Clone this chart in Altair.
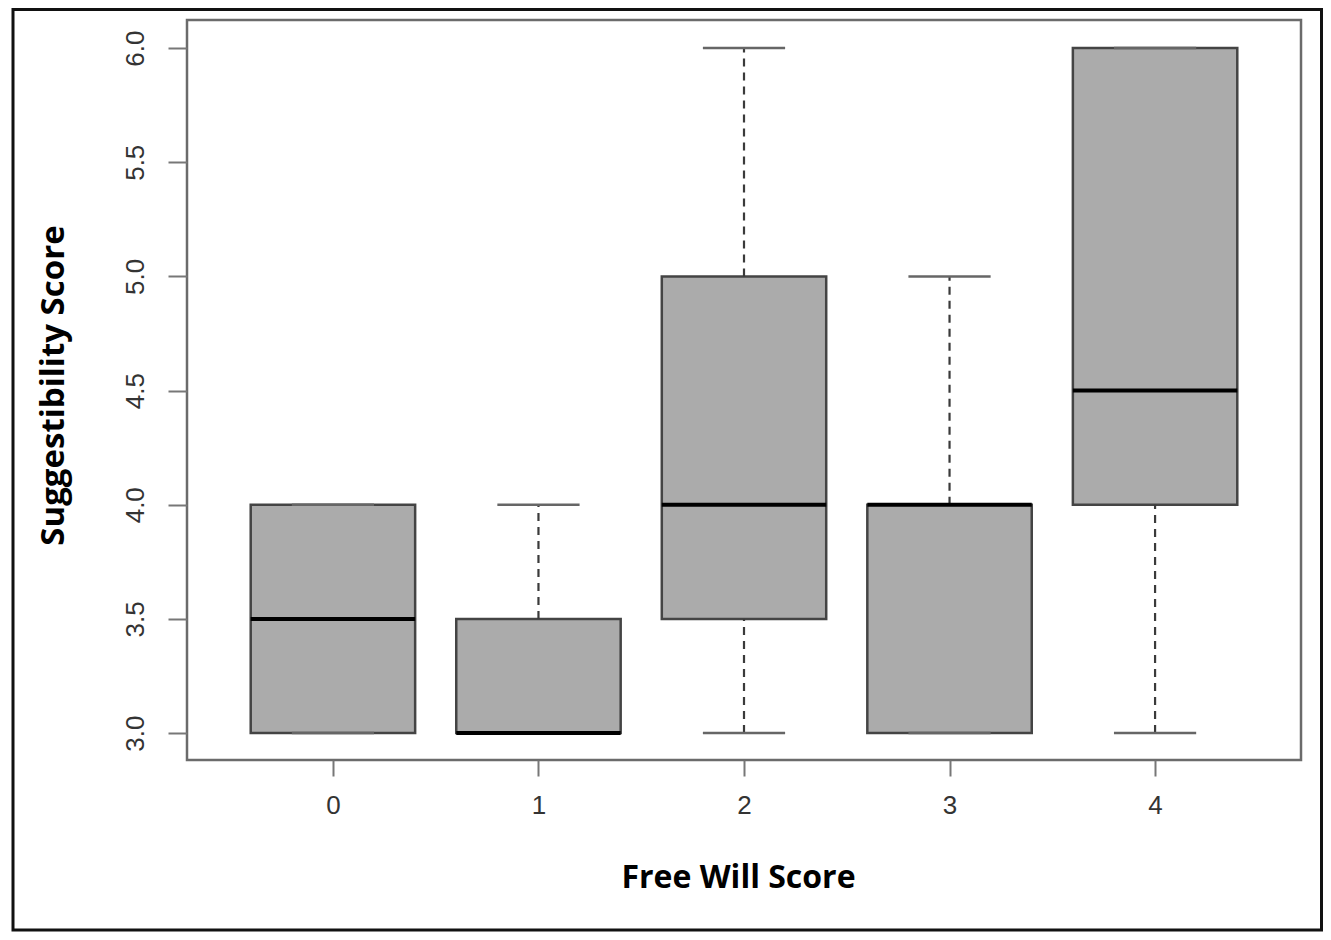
import altair as alt
import pandas as pd

# Box-plot summary values
scores = [0, 1, 2, 3, 4]
lower = [3.0, 3.0, 3.0, 3.0, 3.0]
q1 = [3.0, 3.0, 3.5, 3.0, 4.0]
median = [3.5, 3.0, 4.0, 4.0, 4.5]
q3 = [4.0, 3.5, 5.0, 4.0, 6.0]
upper = [4.0, 4.0, 6.0, 5.0, 6.0]

y_ticks = [3.0, 3.5, 4.0, 4.5, 5.0, 5.5, 6.0]
x_ticks = [0, 1, 2, 3, 4]

df = pd.DataFrame({"score": scores, "lower": lower, "q1": q1,
                   "median": median, "q3": q3, "upper": upper})

W, H = 1114, 740

xscale = alt.Scale(domain=[-0.71, 4.71], nice=False, zero=False)
yscale = alt.Scale(domain=[2.882, 6.123], nice=False, zero=False)

xaxis = alt.Axis(values=x_ticks, format="d", grid=False, domain=False,
                 tickSize=16, tickWidth=2, tickColor="#777777",
                 labelFont="Liberation Sans", labelFontSize=26, labelColor="#333333",
                 labelAlign="center", labelBaseline="alphabetic", labelPadding=37,
                 labelFlush=False, labelOverlap=False,
                 title="Free Will Score", titleFont="Open Sans", titleFontSize=32,
                 titleFontWeight="bold", titleColor="#000000",
                 titleAlign="center", titleBaseline="alphabetic",
                 titleX=551, titleY=127)
yaxis = alt.Axis(values=y_ticks, format=".1f", grid=False, domain=False,
                 tickSize=19, tickWidth=2, tickColor="#777777",
                 labelFont="Liberation Sans", labelFontSize=26, labelColor="#333333",
                 labelAngle=270, labelAlign="center", labelBaseline="alphabetic",
                 labelPadding=25, labelFlush=False, labelOverlap=False,
                 title="Suggestibility Score", titleFont="Open Sans", titleFontSize=33,
                 titleFontWeight="bold", titleColor="#000000",
                 titleAngle=270, titleAlign="center", titleBaseline="alphabetic",
                 titleX=-124, titleY=365)

base = alt.Chart(df).transform_calculate(
    xl="datum.score - 0.4", xr="datum.score + 0.4",
    sl="datum.score - 0.2", sr="datum.score + 0.2")

boxes = base.mark_rect(fill="#ababab", stroke="#444444", strokeWidth=2.5).encode(
    x=alt.X("xl:Q", scale=xscale, axis=xaxis),
    x2="xr:Q",
    y=alt.Y("q1:Q", scale=yscale, axis=yaxis),
    y2="q3:Q")

whisk_up = base.mark_rule(color="#3a3a3a", strokeWidth=2.2, strokeDash=[8, 6]).encode(
    x=alt.X("score:Q", scale=xscale, axis=xaxis),
    y=alt.Y("q3:Q", scale=yscale, axis=yaxis),
    y2="upper:Q")

whisk_lo = base.mark_rule(color="#3a3a3a", strokeWidth=2.2, strokeDash=[8, 6]).encode(
    x=alt.X("score:Q", scale=xscale, axis=xaxis),
    y=alt.Y("lower:Q", scale=yscale, axis=yaxis),
    y2="q1:Q")

cap_up = base.mark_rule(color="#666666", strokeWidth=2.5).encode(
    x=alt.X("sl:Q", scale=xscale, axis=xaxis), x2="sr:Q",
    y=alt.Y("upper:Q", scale=yscale, axis=yaxis))

cap_lo = base.mark_rule(color="#666666", strokeWidth=2.5).encode(
    x=alt.X("sl:Q", scale=xscale, axis=xaxis), x2="sr:Q",
    y=alt.Y("lower:Q", scale=yscale, axis=yaxis))

med = base.mark_rule(color="#000000", strokeWidth=4).encode(
    x=alt.X("xl:Q", scale=xscale, axis=xaxis), x2="xr:Q",
    y=alt.Y("median:Q", scale=yscale, axis=yaxis))

frame = alt.Chart(alt.Data(values=[{"a": 1}])).mark_rect(
    fillOpacity=0, stroke="#111111", strokeWidth=3).encode(
    x=alt.value(-174), x2=alt.value(1134.5),
    y=alt.value(-10.5), y2=alt.value(910))

chart = alt.layer(boxes, whisk_up, whisk_lo, cap_up, cap_lo, med, frame).properties(
    width=W, height=H,
    autosize=alt.AutoSizeParams(type="none"),
    padding={"left": 179, "top": 12, "right": 22, "bottom": 172},
    background="#ffffff",
).configure_view(stroke="#6b6b6b", strokeWidth=2.5)

chart.save("out.html", embed_options={"renderer": "svg", "actions": False})
